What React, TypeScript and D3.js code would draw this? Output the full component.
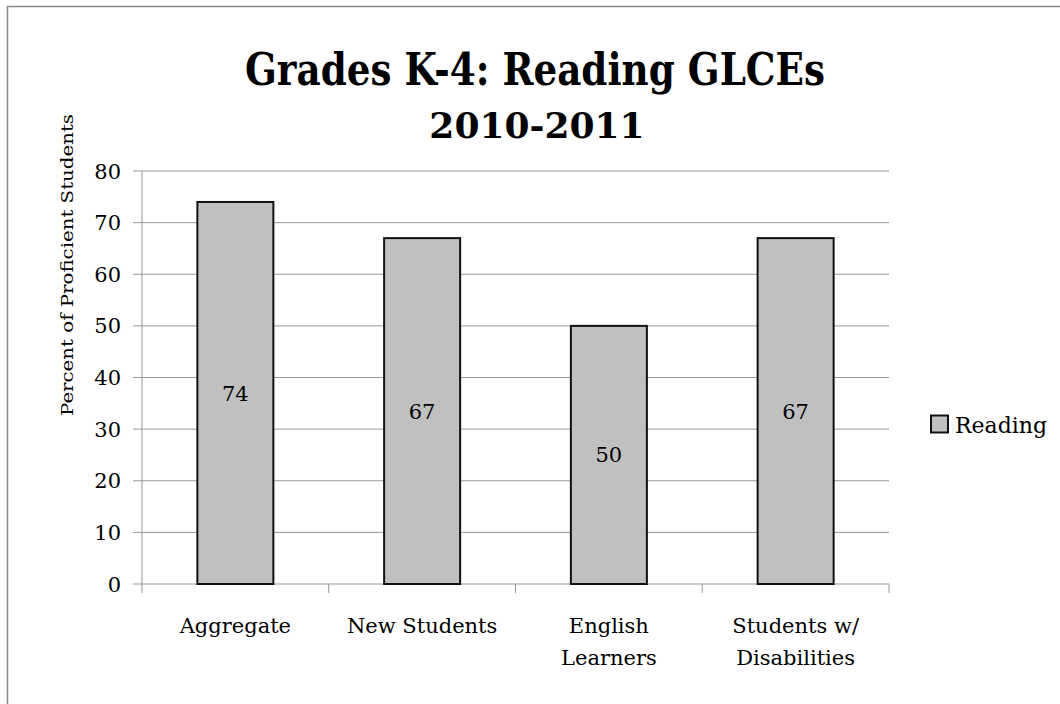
import * as d3 from "d3";

// chart values
const categories = ["Aggregate", "New Students", "English Learners", "Students w/ Disabilities"];
const categoryLines = [["Aggregate"], ["New Students"], ["English", "Learners"], ["Students w/", "Disabilities"]];
const reading = [74, 67, 50, 67];
const yTicks = [0, 10, 20, 30, 40, 50, 60, 70, 80];
const titleLines = ["Grades K-4: Reading GLCEs", "2010-2011"];
const seriesName = "Reading";
const yLabel = "Percent of Proficient Students";

const width = 1060;
const height = 704;
const font = "'DejaVu Serif', serif";

export default function App() {
  const marginLeft = 142;
  const marginRight = 889;
  const top = 171;
  const bottom = 584;

  const x = d3.scaleBand<string>()
    .domain(categories)
    .range([marginLeft, marginRight])
    .paddingInner(0.593)
    .paddingOuter(0.593 / 2);

  const y = d3.scaleLinear([0, 80], [bottom, top]);

  const step = x.step();
  const boundaries = d3.range(categories.length + 1).map((i) => marginLeft + i * step);

  return (
    <svg width={width} height={height} style={{ position: "absolute", left: 0, top: 0, background: "white" }}>
      {/* outer chart border, runs past the picture on the right and bottom */}
      <rect x={7.5} y={6.5} width={1200} height={900} fill="white" stroke="#888" strokeWidth={1.5} />

      {/* title */}
      <text x={535} y={85} textAnchor="middle" fontFamily={font} fontWeight="bold" fontSize={44}
        textLength={580} lengthAdjust="spacingAndGlyphs">{titleLines[0]}</text>
      <text x={537} y={138} textAnchor="middle" fontFamily={font} fontWeight="bold" fontSize={36}>{titleLines[1]}</text>

      {/* y axis title */}
      <text transform={`translate(73,265) rotate(-90)`} textAnchor="middle" fontFamily={font} fontSize={16}
        textLength={302} lengthAdjust="spacingAndGlyphs">{yLabel}</text>

      {/* gridlines and tick labels */}
      {yTicks.map((t) => (
        <g key={t}>
          <line x1={133} x2={marginRight} y1={y(t)} y2={y(t)} stroke="#999" strokeWidth={1} />
          <text x={121} y={y(t)} dy="0.36em" textAnchor="end" fontFamily={font} fontSize={21}>{t}</text>
        </g>
      ))}

      {/* y axis line */}
      <line x1={marginLeft} x2={marginLeft} y1={top} y2={bottom} stroke="#999" strokeWidth={1} />

      {/* category boundary ticks */}
      {boundaries.map((b, i) => (
        <line key={i} x1={b} x2={b} y1={bottom} y2={bottom + 9} stroke="#999" strokeWidth={1} />
      ))}

      {/* bars */}
      {categories.map((c, i) => (
        <g key={c}>
          <rect x={x(c)!} y={y(reading[i])} width={x.bandwidth()} height={y(0) - y(reading[i])}
            fill="#c0c0c0" stroke="#111" strokeWidth={2} />
          <text x={x(c)! + x.bandwidth() / 2} y={y(reading[i] / 2)} dy="0.36em" textAnchor="middle"
            fontFamily={font} fontSize={21}>{reading[i]}</text>
        </g>
      ))}

      {/* category labels */}
      {categories.map((c, i) => (
        <text key={c} x={x(c)! + x.bandwidth() / 2} y={633} textAnchor="middle" fontFamily={font} fontSize={21}>
          {categoryLines[i].map((line, j) => (
            <tspan key={j} x={x(c)! + x.bandwidth() / 2} dy={j === 0 ? 0 : 32}>{line}</tspan>
          ))}
        </text>
      ))}

      {/* legend */}
      <rect x={931} y={415.5} width={17} height={17} fill="#c0c0c0" stroke="#111" strokeWidth={2} />
      <text x={955} y={433} fontFamily={font} fontSize={22}>{seriesName}</text>
    </svg>
  );
}
